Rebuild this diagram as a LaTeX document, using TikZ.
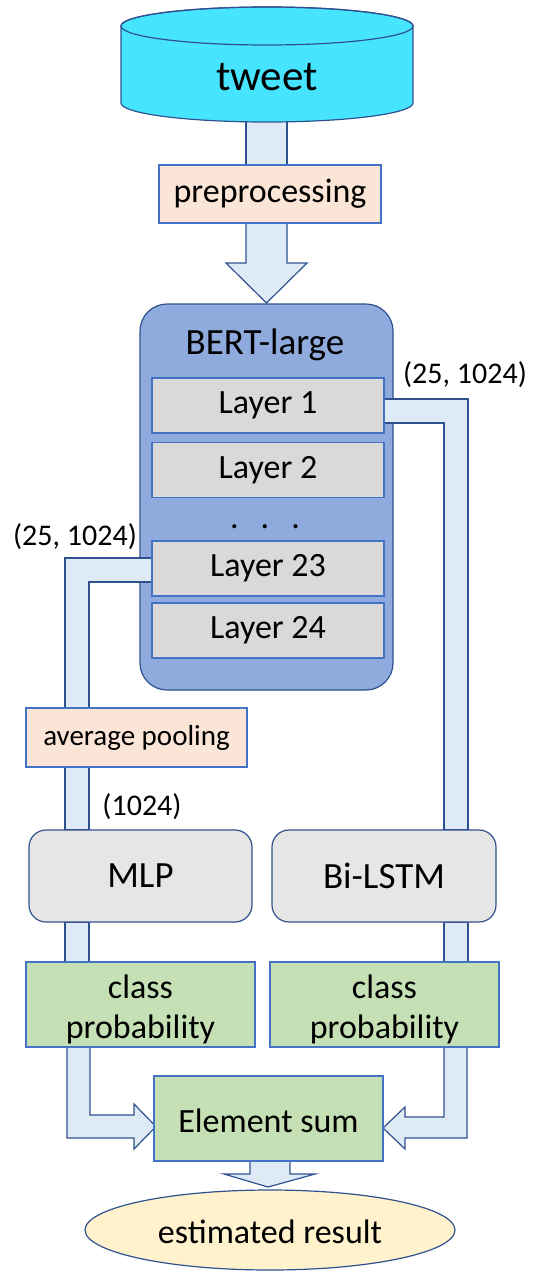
\documentclass[tikz,border=0pt]{standalone}
\usepackage{fontspec}
\setmainfont{Carlito}
\usetikzlibrary{shapes.geometric}
\definecolor{cyanf}{HTML}{47E4FF}
\definecolor{bandf}{HTML}{DEEBF7}
\definecolor{edgeb}{HTML}{2F528F}
\definecolor{boxb}{HTML}{4472C4}
\definecolor{peach}{HTML}{FBE5D6}
\definecolor{bertf}{HTML}{8FAADC}
\definecolor{layerf}{HTML}{D9D9D9}
\definecolor{modf}{HTML}{E7E6E6}
\definecolor{greenf}{HTML}{C5E0B4}
\definecolor{yellowf}{HTML}{FFF2CC}
\begin{document}
\begin{tikzpicture}[x=1pt,y=1pt,line join=miter]
\tikzset{
  band/.style={fill=bandf,draw=edgeb,line width=1.2pt},
  box/.style={rectangle,draw=boxb,line width=1.2pt,inner sep=0pt,text=black,font=\fontsize{34}{40}\selectfont,align=center},
  lbl/.style={inner sep=0pt,font=\fontsize{30}{36}\selectfont},
  txt/.style={inner sep=0pt,align=center,font=\fontsize{34}{40}\selectfont},
}
\useasboundingbox (0,0) rectangle (533,-1274);
% BERT body
\node[box,draw=edgeb,fill=bertf,rounded corners=27pt,minimum width=253pt,minimum height=386pt] (bert) at (266.5,-497) {};
\node[inner sep=0pt,font=\fontsize{37}{44}\selectfont] (bertlbl) at (265,-345) {BERT-large};
% bands
\draw[band] (246,-110) rectangle (287,-165);
\draw[band] (246,-223) -- (246,-263) -- (226,-263) -- (266.5,-303) -- (307,-263) -- (287,-263) -- (287,-223) -- cycle;
\draw[band] (384,-399) -- (468,-399) -- (468,-830) -- (444,-830) -- (444,-423) -- (384,-423) -- cycle;
\draw[band] (444,-922) rectangle (468,-962);
\draw[band] (444,-1047) -- (444,-1117) -- (405,-1117) -- (405,-1107) -- (383,-1128) -- (405,-1149) -- (405,-1138) -- (467,-1138) -- (467,-1047) -- cycle;
\draw[band] (152,-558) -- (65,-558) -- (65,-708) -- (89,-708) -- (89,-582) -- (152,-582) -- cycle;
\draw[band] (65,-767) rectangle (89,-830);
\draw[band] (65,-922) rectangle (89,-962);
\draw[band] (67,-1047) -- (67,-1138) -- (134,-1138) -- (134,-1149) -- (156,-1126.5) -- (134,-1104) -- (134,-1115) -- (90,-1115) -- (90,-1047) -- cycle;
\draw[band] (250,-1161) -- (250,-1174) -- (224,-1174) -- (268,-1187) -- (315,-1174) -- (290,-1174) -- (290,-1161) -- cycle;
% tweet cylinder
\draw[fill=cyanf,draw=edgeb,line width=1.2pt] (121,-26) -- (121,-103) arc[start angle=180,end angle=360,x radius=146,y radius=19] -- (413,-26) arc[start angle=0,end angle=180,x radius=146,y radius=19] -- cycle;
\draw[draw=edgeb,line width=1.2pt] (267,-26) ellipse[x radius=146,y radius=19];
\node[inner sep=0pt,font=\fontsize{43}{50}\selectfont] (tweet) at (267,-77) {tweet};
% boxes
\node[box,fill=peach,minimum width=222pt,minimum height=58pt] (pre) at (270,-194) {preprocessing};
\node[box,fill=layerf,minimum width=232pt,minimum height=55pt] (L1) at (268,-405.5) {Layer 1};
\node[box,fill=layerf,minimum width=232pt,minimum height=55pt] (L2) at (268,-470) {Layer 2};
\node[inner sep=0pt,anchor=base,font=\fontsize{34}{40}\selectfont] (dots) at (265,-528) {.\hspace{22pt}.\hspace{22pt}.};
\node[box,fill=layerf,minimum width=232pt,minimum height=55pt] (L23) at (268,-568.5) {Layer 23};
\node[box,fill=layerf,minimum width=232pt,minimum height=55pt] (L24) at (268,-630.5) {Layer 24};
\node[box,fill=peach,minimum width=221pt,minimum height=59pt,font=\fontsize{29}{35}\selectfont] (avg) at (136.5,-737.5) {average pooling};
\node[box,draw=edgeb,fill=modf,rounded corners=17pt,minimum width=223pt,minimum height=92pt,font=\fontsize{37}{44}\selectfont] (mlp) at (140.5,-876) {MLP};
\node[box,draw=edgeb,fill=modf,rounded corners=17pt,minimum width=224pt,minimum height=92pt,font=\fontsize{37}{44}\selectfont] (lstm) at (384,-876) {Bi-LSTM};
\node[box,fill=greenf,minimum width=229pt,minimum height=85pt] (cpl) at (140.5,-1004.5) {};
\node[txt] (cpltxt) at (140.5,-1009) {class\\probability};
\node[box,fill=greenf,minimum width=229pt,minimum height=85pt] (cpr) at (384.5,-1004.5) {};
\node[txt] (cprtxt) at (384.5,-1009) {class\\probability};
\node[box,fill=greenf,minimum width=229pt,minimum height=85pt] (sum) at (268.5,-1118.5) {};
\node[txt] (sumtxt) at (268.5,-1120.5) {Element sum};
\node[ellipse,draw=edgeb,line width=1.2pt,fill=yellowf,inner sep=0pt,minimum width=370pt,minimum height=80pt] (res) at (270,-1230) {};
\node[txt] (restxt) at (270,-1231.5) {estimated result};
% labels
\node[lbl] (d1) at (465,-375) {(25, 1024)};
\node[lbl] (d23) at (75,-537) {(25, 1024)};
\node[lbl] (d1024) at (142,-807) {(1024)};
\end{tikzpicture}
\end{document}
